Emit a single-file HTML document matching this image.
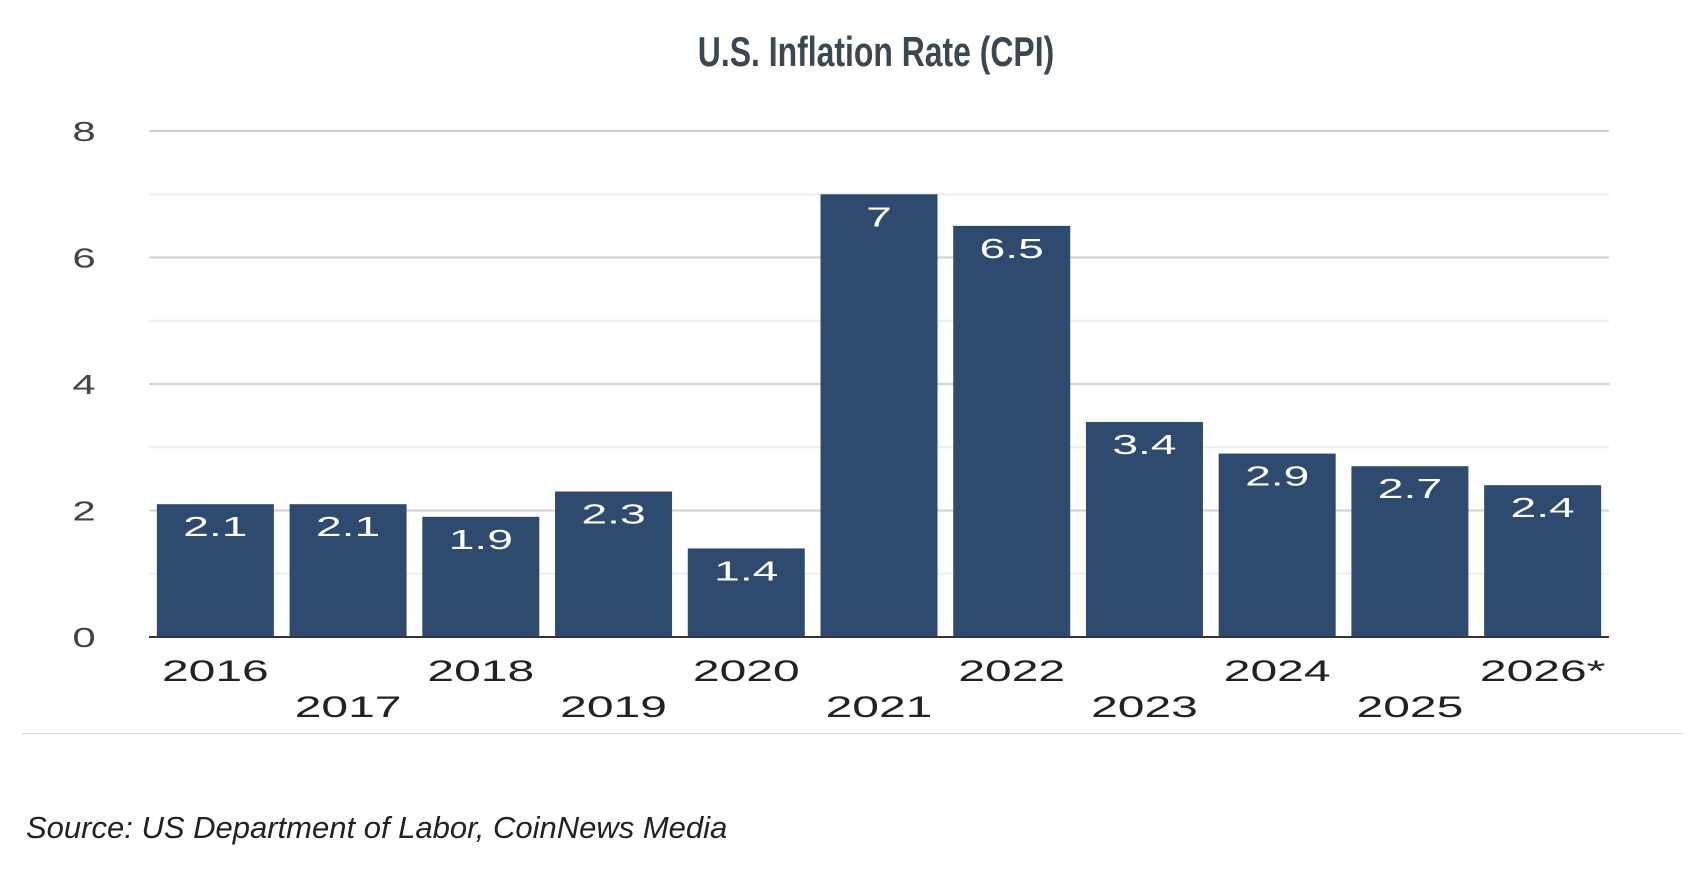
<!DOCTYPE html>
<html><head><meta charset="utf-8"><style>
html,body{margin:0;padding:0;background:#fff;}
body{width:1696px;height:878px;overflow:hidden;position:relative;font-family:"Liberation Sans",sans-serif;}
#title{position:absolute;left:0;width:1752px;top:28px;text-align:center;font-family:"Liberation Sans",sans-serif;font-weight:bold;font-size:42px;color:#3a4853;transform:scaleX(0.76);transform-origin:876px 0;}
#sep{position:absolute;left:22px;top:733px;width:1661px;height:1px;background:#d8d8d8;}
#source{position:absolute;left:26px;top:810px;font-style:italic;font-size:31px;color:#222;font-family:"Liberation Sans",sans-serif;}
</style></head><body>
<div id="title">U.S. Inflation Rate (CPI)</div>
<svg id="chart" width="1696" height="878" style="position:absolute;left:0;top:0"></svg>
<div id="sep"></div>
<div id="source">Source: US Department of Labor, CoinNews Media</div>
<script>
const categories = ["2016","2017","2018","2019","2020","2021","2022","2023","2024","2025","2026*"];
const values = [2.1,2.1,1.9,2.3,1.4,7,6.5,3.4,2.9,2.7,2.4];
const valueLabels = ["2.1","2.1","1.9","2.3","1.4","7","6.5","3.4","2.9","2.7","2.4"];
const yTicks = [0,2,4,6,8];
const yMinor = [1,3,5,7];

const NS="http://www.w3.org/2000/svg";
const svg=document.getElementById('chart');
const L=149,R=1609,T=131,B=637,yMax=8;
const y=v=>B-(v/yMax)*(B-T);
const band=(R-L)/categories.length;
const x=i=>L+band*i+band/2;
const bw=117;
function mk(tag,attrs){const e=document.createElementNS(NS,tag);for(const k in attrs)e.setAttribute(k,attrs[k]);svg.appendChild(e);return e;}
function stretched(cx,cy,sx,size,fill,str){const t=mk('text',{x:0,y:0,'text-anchor':'middle','font-size':size,fill:fill,transform:'translate('+cx+','+cy+') scale('+sx+',1)'});t.textContent=str;return t;}
yMinor.forEach(v=>{const l=mk('line',{x1:L,x2:R,y1:y(v),y2:y(v),stroke:'#eeeeee','stroke-width':2});

});
yTicks.forEach(v=>{const l=mk('line',{x1:L,x2:R,y1:y(v),y2:y(v),stroke:'#d0d0d0','stroke-width':2});


const t=stretched(84,y(v)+10,1.5,28,'#444',v);

});
values.forEach((v,i)=>{
const r=mk('rect',{x:x(i)-bw/2,y:y(v),width:bw,height:B-y(v),fill:'#2e4a6e'});


const t=stretched(x(i),y(v)+32,1.65,28,'#fff',valueLabels[i]);


const c=stretched(x(i),i%2?717:681,1.6,30,'#222',categories[i]);


});
const ax=mk('line',{x1:L,x2:R,y1:B,y2:B,stroke:'#333','stroke-width':2});


</script>
</body></html>
